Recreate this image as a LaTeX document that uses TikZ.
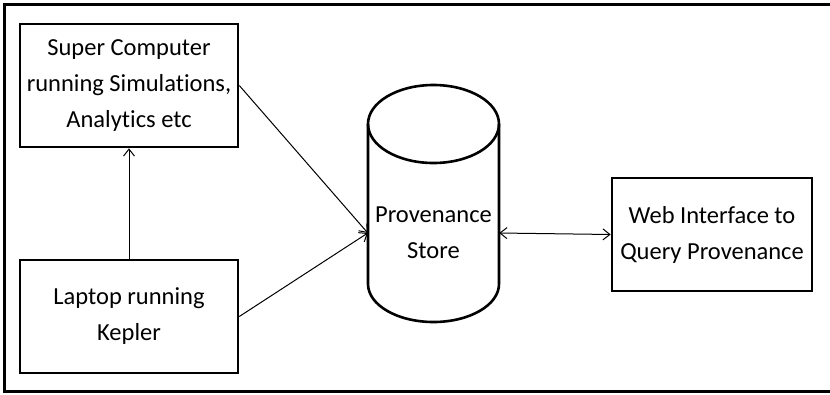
\documentclass[tikz,border=0pt]{standalone}
\usepackage{fontspec}
\setmainfont{Carlito}[RawFeature={-liga}]
\usetikzlibrary{arrows.meta}
\begin{document}
\begin{tikzpicture}[x=1pt,y=-1pt,
  label text/.style={align=center, font=\fontsize{24.5}{36}\selectfont},
  box/.style={draw, line width=2.6pt, inner sep=0pt, label text},
  tip/.style={Straight Barb[length=7pt,width=11pt]},
  link/.style={line width=1pt, -{Straight Barb[length=7pt,width=11pt]}},
  twoway/.style={line width=1pt, {Straight Barb[length=7pt,width=11pt]}-{Straight Barb[length=7pt,width=11pt]}},
]
\useasboundingbox (0,0) rectangle (830,394);
% outer frame (open on the right)
\draw[line width=3pt] (834,4) -- (4,4) -- (4,391) -- (834,391);

% boxes
\node[box, minimum width=218pt, minimum height=123pt] (super) at (129,85.5)
  {Super Computer\\running Simulations,\\Analytics etc};
\node[box, minimum width=218pt, minimum height=113pt] (laptop) at (129,316.5)
  {Laptop running\\Kepler};
\node[box, minimum width=200pt, minimum height=113pt] (web) at (712,234.5)
  {Web Interface to\\Query Provenance};

% provenance store cylinder
\draw[line width=2.6pt] (368,124) -- (368,284)
  arc[start angle=180, end angle=360, x radius=65.5pt, y radius=38pt] -- (499,124);
\draw[line width=2.6pt] (433.5,124) ellipse [x radius=65.5pt, y radius=39pt];
\node[label text, minimum width=131pt, inner sep=0pt] (store) at (433.5,233) {Provenance\\Store};

% connectors
\draw[link] (laptop.north) -- (super.south);
\draw[link] (super.east) -- (store.west);
\draw[link] (laptop.east) -- (store.west);
\draw[twoway] (store.east) -- (web.west);
\end{tikzpicture}
\end{document}
